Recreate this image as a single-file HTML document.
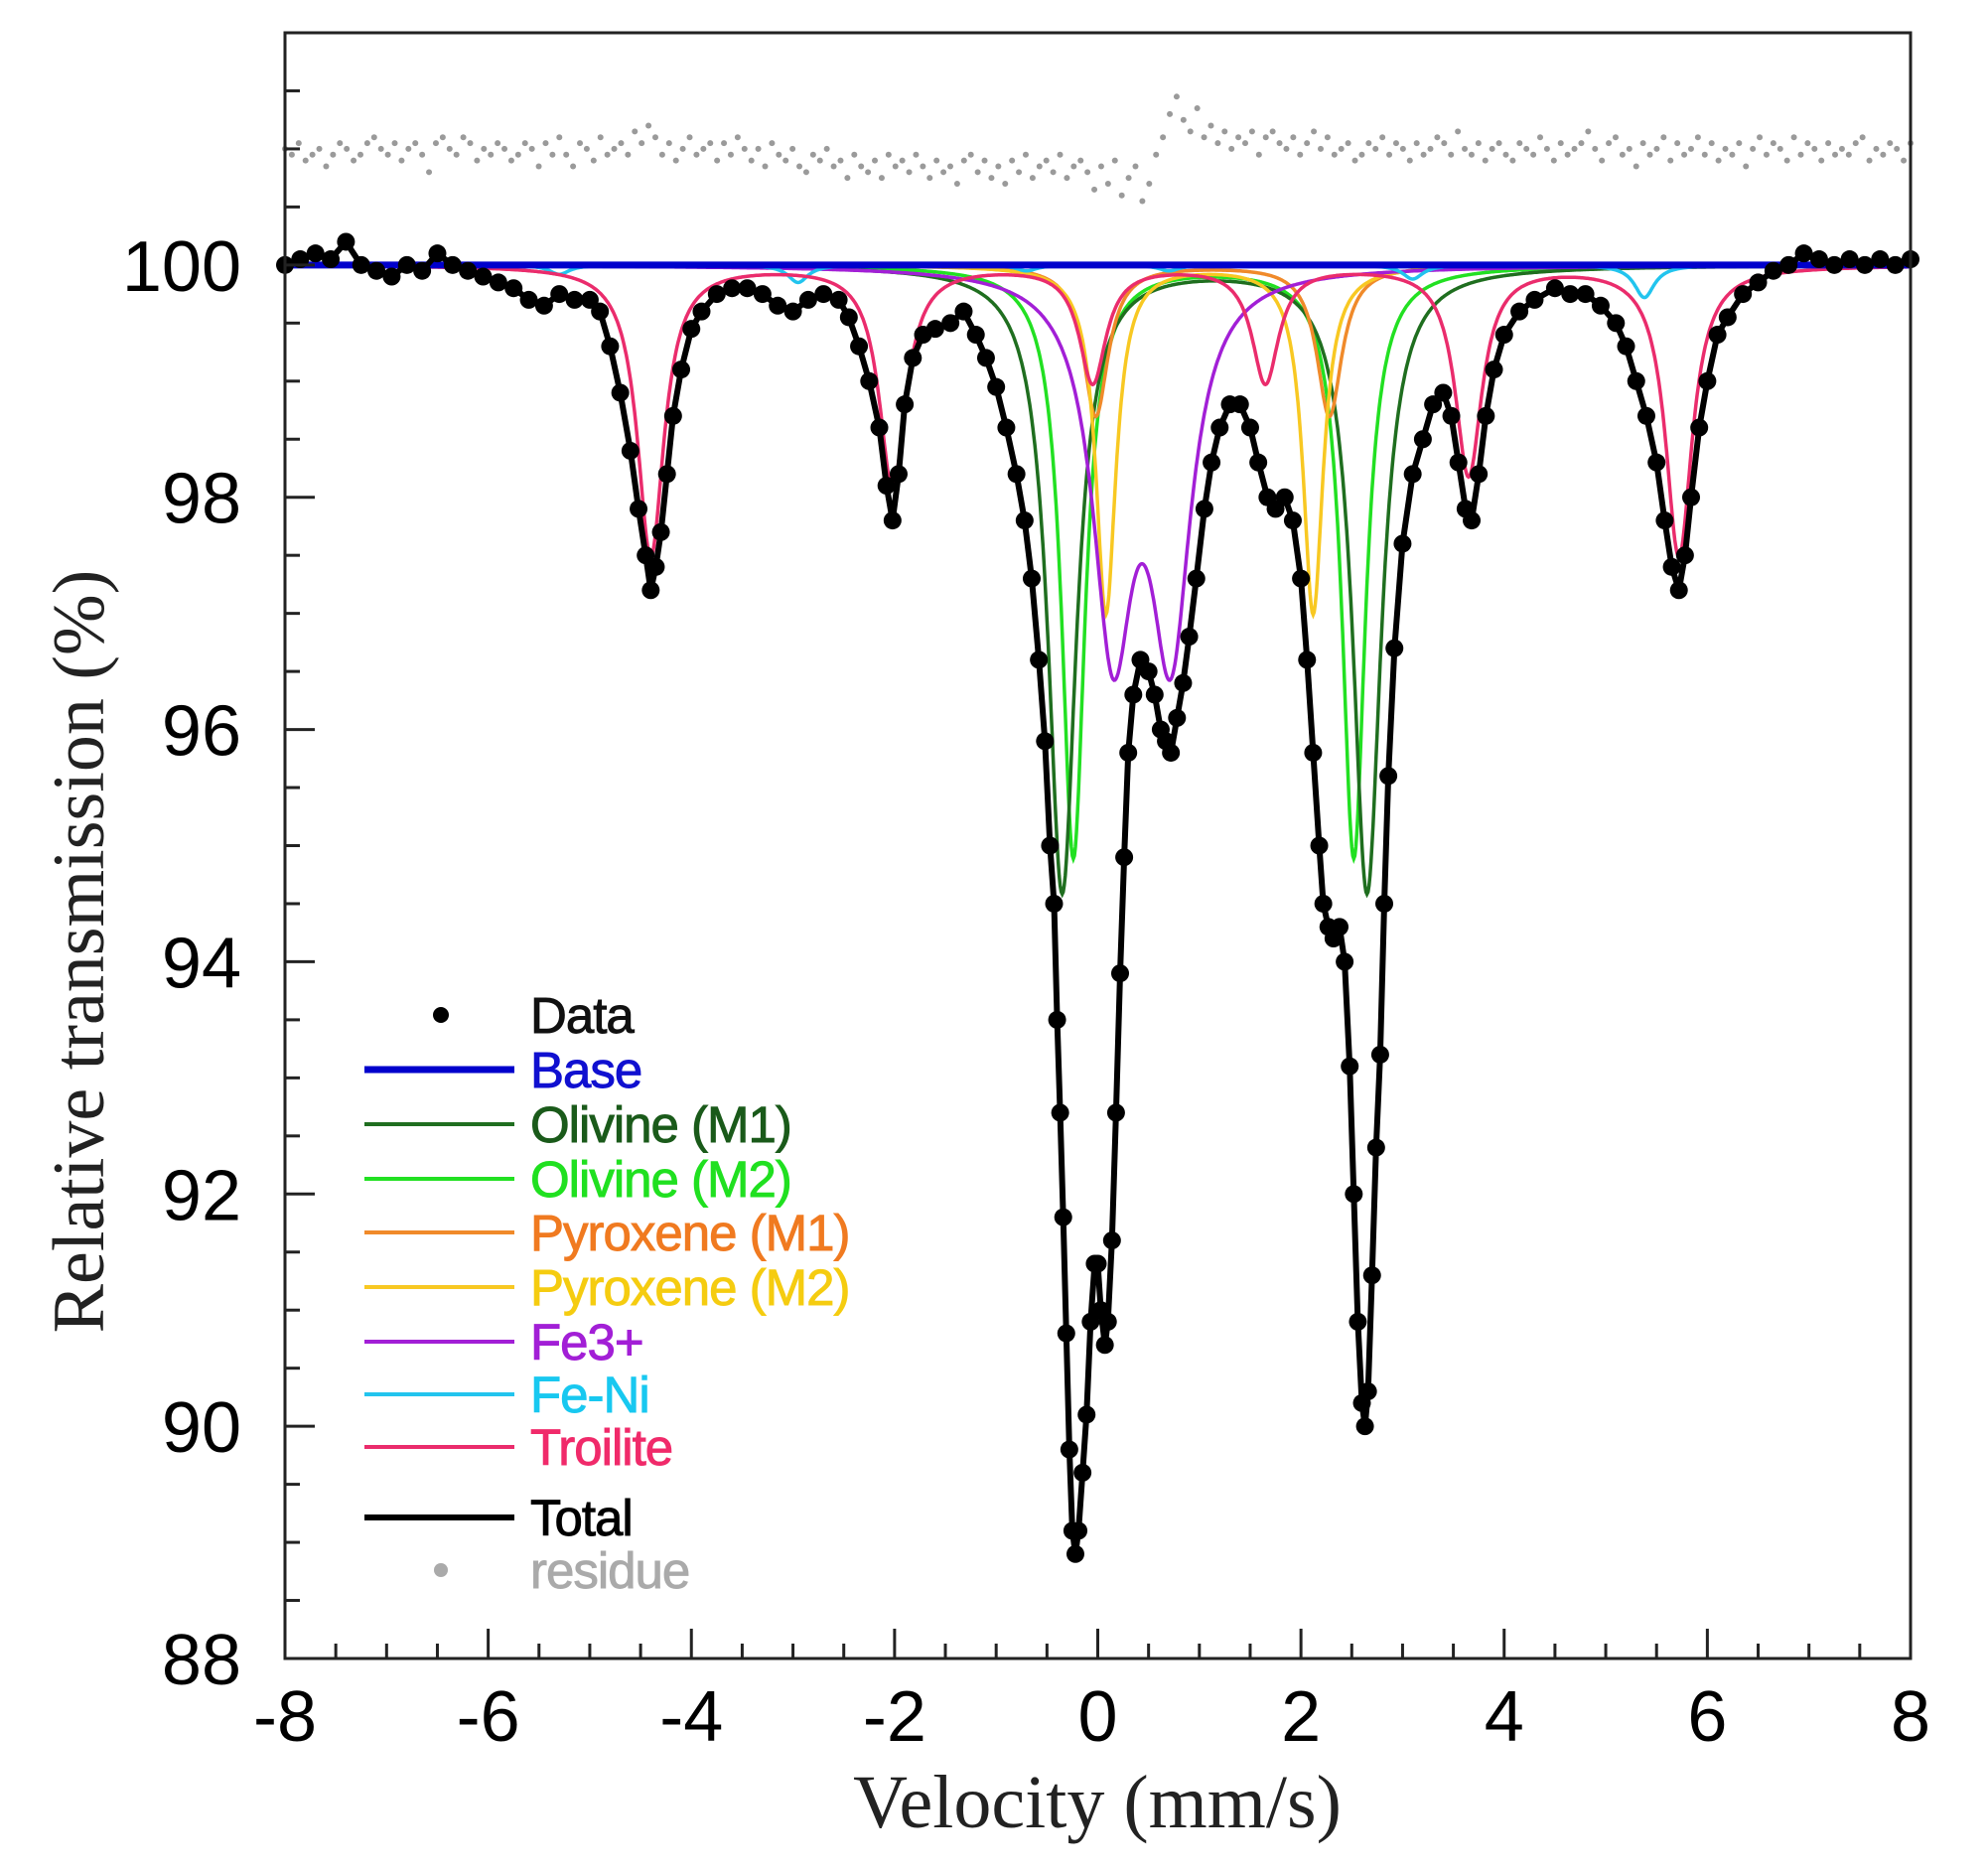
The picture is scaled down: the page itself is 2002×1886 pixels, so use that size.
<!DOCTYPE html>
<html><head><meta charset="utf-8"><style>
html,body{margin:0;padding:0;background:#fff;}
svg{display:block;}
</style></head><body>
<svg id="chart" width="2002" height="1886" viewBox="0 0 2002 1886" xmlns="http://www.w3.org/2000/svg">
<rect x="0" y="0" width="2002" height="1886" fill="#fff"/>
<g id="plot"></g>
<g id="axes"></g>
<g id="legend"></g>
</svg>
<script>
// ---- data ----
const xTicks = [-8,-6,-4,-2,0,2,4,6,8];
const yTicks = [88,90,92,94,96,98,100];
const dataV = [-8.0,-7.85,-7.7,-7.55,-7.4,-7.25,-7.1,-6.95,-6.8,-6.65,-6.5,-6.35,-6.2,-6.05,-5.9,-5.75,-5.6,-5.45,-5.3,-5.15,-5.0,-4.9,-4.8,-4.7,-4.6,-4.52,-4.45,-4.4,-4.35,-4.3,-4.24,-4.18,-4.1,-4.0,-3.9,-3.75,-3.6,-3.45,-3.3,-3.15,-3.0,-2.85,-2.7,-2.55,-2.45,-2.35,-2.25,-2.15,-2.08,-2.02,-1.96,-1.9,-1.82,-1.72,-1.6,-1.45,-1.32,-1.2,-1.1,-1.0,-0.9,-0.8,-0.72,-0.65,-0.58,-0.52,-0.47,-0.43,-0.4,-0.37,-0.34,-0.31,-0.28,-0.25,-0.22,-0.19,-0.15,-0.11,-0.07,-0.03,0.0,0.03,0.07,0.1,0.14,0.18,0.22,0.26,0.3,0.35,0.42,0.5,0.56,0.62,0.67,0.72,0.78,0.84,0.9,0.97,1.05,1.12,1.2,1.3,1.4,1.5,1.58,1.67,1.75,1.84,1.92,2.0,2.06,2.12,2.18,2.22,2.27,2.32,2.38,2.43,2.48,2.52,2.56,2.6,2.63,2.66,2.7,2.74,2.78,2.82,2.86,2.92,3.0,3.1,3.2,3.3,3.4,3.48,3.55,3.62,3.68,3.75,3.82,3.9,4.0,4.15,4.3,4.5,4.65,4.8,4.95,5.1,5.2,5.3,5.4,5.5,5.58,5.65,5.72,5.78,5.84,5.92,6.0,6.1,6.2,6.35,6.5,6.65,6.8,6.95,7.1,7.25,7.4,7.55,7.7,7.85,8.0];
const dataT = [100.0,100.05,100.1,100.05,100.2,100.0,99.95,99.9,100.0,99.95,100.1,100.0,99.95,99.9,99.85,99.8,99.7,99.65,99.75,99.7,99.7,99.6,99.3,98.9,98.4,97.9,97.5,97.2,97.4,97.7,98.2,98.7,99.1,99.45,99.6,99.75,99.8,99.8,99.75,99.65,99.6,99.7,99.75,99.7,99.55,99.3,99.0,98.6,98.1,97.8,98.2,98.8,99.2,99.4,99.45,99.5,99.6,99.4,99.2,98.95,98.6,98.2,97.8,97.3,96.6,95.9,95.0,94.5,93.5,92.7,91.8,90.8,89.8,89.1,88.9,89.1,89.6,90.1,90.9,91.4,91.4,91.0,90.7,90.9,91.6,92.7,93.9,94.9,95.8,96.3,96.6,96.5,96.3,96.0,95.9,95.8,96.1,96.4,96.8,97.3,97.9,98.3,98.6,98.8,98.8,98.6,98.3,98.0,97.9,98.0,97.8,97.3,96.6,95.8,95.0,94.5,94.3,94.2,94.3,94.0,93.1,92.0,90.9,90.2,90.0,90.3,91.3,92.4,93.2,94.5,95.6,96.7,97.6,98.2,98.5,98.8,98.9,98.7,98.3,97.9,97.8,98.2,98.7,99.1,99.4,99.6,99.7,99.8,99.75,99.75,99.65,99.5,99.3,99.0,98.7,98.3,97.8,97.4,97.2,97.5,98.0,98.6,99.0,99.4,99.55,99.75,99.85,99.95,100.0,100.1,100.05,100.0,100.05,100.0,100.05,100.0,100.05];
const residue = [
101.0,100.95,101.05,100.9,100.95,101.0,100.85,100.95,101.05,101.0,
100.9,100.95,101.05,101.1,101.0,100.95,101.05,100.9,101.0,101.05,
100.95,100.8,101.05,101.1,101.0,100.95,101.1,101.05,100.9,101.0,
100.95,101.05,101.0,100.9,100.95,101.05,101.0,100.85,101.05,100.95,
101.1,100.95,100.85,101.05,101.0,100.9,101.1,100.95,101.0,101.05,
100.95,101.15,101.05,101.2,101.1,100.95,101.05,100.9,101.0,101.1,
100.95,101.0,101.05,100.9,101.05,100.95,101.1,101.0,100.9,101.0,
100.85,101.05,100.95,100.9,101.0,100.85,100.8,100.95,100.9,101.0,
100.85,100.9,100.75,100.95,100.85,100.8,100.9,100.75,100.95,100.85,
100.9,100.8,100.95,100.85,100.75,100.9,100.8,100.85,100.7,100.9,
100.95,100.8,100.9,100.75,100.85,100.7,100.9,100.8,100.95,100.75,
100.85,100.9,100.8,100.95,100.75,100.85,100.9,100.8,
100.65,100.85,100.7,100.9,100.6,100.75,100.85,100.55,100.7,100.95,
101.1,101.3,101.45,101.25,101.15,101.35,101.1,101.2,101.05,101.15,
101.0,101.1,101.05,101.15,100.95,101.1,101.15,101.05,101.0,101.1,
100.95,101.05,101.15,101.0,101.1,100.95,101.0,101.05,100.9,100.95,
101.05,101.0,101.1,100.95,101.05,101.0,100.9,101.05,100.95,101.0,
101.1,101.05,100.95,101.15,101.0,100.95,101.05,100.9,101.0,101.05,
100.95,100.9,101.05,101.0,100.95,101.1,101.0,100.9,101.05,100.95,
101.0,101.05,101.15,101.0,100.9,101.05,101.1,100.95,101.0,100.85,
101.05,100.95,101.0,101.1,100.9,101.05,100.95,101.0,101.1,100.95,
101.05,100.9,101.0,100.95,101.05,100.85,101.0,101.1,100.95,101.05,
101.0,100.9,101.1,100.95,101.05,101.0,100.9,101.05,100.95,101.0,
100.95,101.05,101.1,100.9,101.0,100.95,101.05,101.0,100.9,101.05];
// components: centers, depths, widths (HWHM)
const olM1C = [-0.35, 2.65], olM1D = [5.4, 5.4], olM1W = 0.17;
const olM2C = [-0.24, 2.52], olM2D = [5.1, 5.1], olM2W = 0.14;
const pyM1C = [-0.02, 2.28], pyM1D = [1.3, 1.3], pyM1W = 0.15;
const pyM2C = [0.08, 2.12], pyM2D = [3.0, 3.0], pyM2W = 0.12;
const fe3C = [0.15, 0.72], fe3D = [3.1, 3.1], fe3W = 0.24;
const feNiC = [-5.3,-2.95,-0.7,0.7,3.1,5.38], feNiD = [0.08,0.15,0.05,0.05,0.12,0.28], feNiW = 0.12;
const troC = [-4.4,-2.02,-0.05,1.65,3.65,5.72], troD = [2.5,1.9,1.0,1.0,1.8,2.5], troW = 0.16;

// ---- scales ----
const X0 = 287, X1 = 1924, Y0 = 1670, Y1 = 33;
const xMin = -8, xMax = 8, yMin = 88, yMax = 102;
function sx(v){ return X0 + (v - xMin) / (xMax - xMin) * (X1 - X0); }
function sy(t){ return Y0 - (t - yMin) / (yMax - yMin) * (Y0 - Y1); }
const NS = 'http://www.w3.org/2000/svg';
function mk(tag, attrs, parent){ const e = document.createElementNS(NS, tag); for (const k in attrs) e.setAttribute(k, attrs[k]); parent.appendChild(e); return e; }
const plot = document.getElementById('plot');
const axes = document.getElementById('axes');
const legend = document.getElementById('legend');

function compPath(C, D, W){
  let d = '';
  for (let i = 0; i <= 1600; i++){
    const v = xMin + i * 0.01;
    let s = 0;
    for (let k = 0; k < C.length; k++){ const z = (v - C[k]) / W; s += D[k] / (1 + z*z); }
    d += (i ? 'L' : 'M') + sx(v).toFixed(1) + ',' + sy(100 - s).toFixed(1);
  }
  return d;
}
const comps = [
  ['olivine-m2-curve', olM2C, olM2D, olM2W, '#22e022'],
  ['olivine-m1-curve', olM1C, olM1D, olM1W, '#1f6e1f'],
  ['pyroxene-m1-curve', pyM1C, pyM1D, pyM1W, '#f08a2a'],
  ['pyroxene-m2-curve', pyM2C, pyM2D, pyM2W, '#f8c822'],
  ['fe3-curve', fe3C, fe3D, fe3W, '#a21fd6'],
  ['fe-ni-curve', feNiC, feNiD, feNiW, '#22c4ee'],
  ['troilite-curve', troC, troD, troW, '#ea2c6c']
];
// residue
const rg = mk('g', {}, plot);


for (let i = 0; i < residue.length; i++){
  const v = xMin + (xMax - xMin) * i / (residue.length - 1);
  const c = mk('circle', {cx: sx(v), cy: sy(residue[i]), r: 3, fill: '#9a9a9a'}, rg);
  
  
}
for (const c of comps){
  const p = mk('path', {d: compPath(c[1], c[2], c[3]), fill: 'none', stroke: c[4], 'stroke-width': 3.5}, plot);
  
  
}
// base line
const base = mk('line', {x1: sx(-8), x2: sx(8), y1: sy(100), y2: sy(100), stroke: '#0000cc', 'stroke-width': 7}, plot);


// total
let td = '';
for (let i = 0; i < dataV.length; i++) td += (i ? 'L' : 'M') + sx(dataV[i]).toFixed(1) + ',' + sy(dataT[i]).toFixed(1);
const tot = mk('path', {d: td, fill: 'none', stroke: '#000', 'stroke-width': 6, 'stroke-linejoin': 'round'}, plot);


const dg = mk('g', {}, plot);


for (let i = 0; i < dataV.length; i++){
  const c = mk('circle', {cx: sx(dataV[i]), cy: sy(dataT[i]), r: 9, fill: '#000'}, dg);
  
  
}
// axes frame
const fr = mk('rect', {x: X0, y: Y1, width: X1 - X0, height: Y0 - Y1, fill: 'none', stroke: '#222', 'stroke-width': 3}, axes);


for (let v = -8; v <= 8.001; v += 0.5){
  const major = Math.abs(v - Math.round(v / 2) * 2) < 1e-6;
  const t = mk('line', {x1: sx(v), x2: sx(v), y1: Y0, y2: Y0 - (major ? 30 : 15), stroke: '#222', 'stroke-width': 3}, axes);
  
  
}
for (let y = 88; y <= 102.001; y += 0.5){
  const major = Math.abs(y - Math.round(y / 2) * 2) < 1e-6;
  const t = mk('line', {x1: X0, x2: X0 + (major ? 30 : 15), y1: sy(y), y2: sy(y), stroke: '#222', 'stroke-width': 3}, axes);
  
  
}
for (const v of xTicks){
  const t = mk('text', {x: sx(v), y: 1753, 'text-anchor': 'middle', 'font-family': '"Liberation Sans", sans-serif', 'font-size': 72, fill: '#000'}, axes);
  t.textContent = v;
  
  
}
for (const v of yTicks){
  const t = mk('text', {x: 243, y: sy(v) + 26, 'text-anchor': 'end', 'font-family': '"Liberation Sans", sans-serif', 'font-size': 72, fill: '#000'}, axes);
  t.textContent = v;
  
  
}
const xt = mk('text', {x: 1105, y: 1840, 'text-anchor': 'middle', 'font-family': '"Liberation Serif", serif', 'font-size': 76, fill: '#222'}, axes);
xt.textContent = 'Velocity (mm/s)';


const yt = mk('text', {x: 0, y: 0, transform: 'translate(104,958) rotate(-90)', 'text-anchor': 'middle', 'font-family': '"Liberation Serif", serif', 'font-size': 74, fill: '#222'}, axes);
yt.textContent = 'Relative transmission (%)';


// legend
const legLabels = ['Base','Olivine (M1)','Olivine (M2)','Pyroxene (M1)','Pyroxene (M2)','Fe3+','Fe-Ni','Troilite','Total'];
const legColors = ['#0000cc','#1f6e1f','#22e022','#f08a2a','#f8c822','#a21fd6','#22c4ee','#ea2c6c','#000'];
const legTextColors = ['#1010d0','#1a5a1a','#20e020','#f07a20','#f5cc10','#a21fd6','#18c8f0','#f02a6a','#000'];
const legY = [1077,1132,1187,1241,1296,1351,1404,1457,1528];
const legW = [7,4,4,4,4,4,4,4,6];
function legText(txt, y, col, name){
  const t = mk('text', {x: 534, y: y, 'font-family': '"Liberation Sans", sans-serif', 'font-size': 51, fill: col, stroke: col, 'stroke-width': 0.9, 'letter-spacing': '-1'}, legend);
  t.textContent = txt;
  
  
}
const ld = mk('circle', {cx: 444, cy: 1022, r: 8, fill: '#000'}, legend);


legText('Data', 1040, '#111', 'legend-data-label');
for (let i = 0; i < legLabels.length; i++){
  const l = mk('line', {x1: 367, x2: 518, y1: legY[i], y2: legY[i], stroke: legColors[i], 'stroke-width': legW[i]}, legend);
  
  
  legText(legLabels[i], legY[i] + 18, legTextColors[i], 'legend-label');
}
const lr = mk('circle', {cx: 444, cy: 1581, r: 7, fill: '#aaa'}, legend);


legText('residue', 1599, '#aaa', 'legend-residue-label');
</script>
</body></html>
